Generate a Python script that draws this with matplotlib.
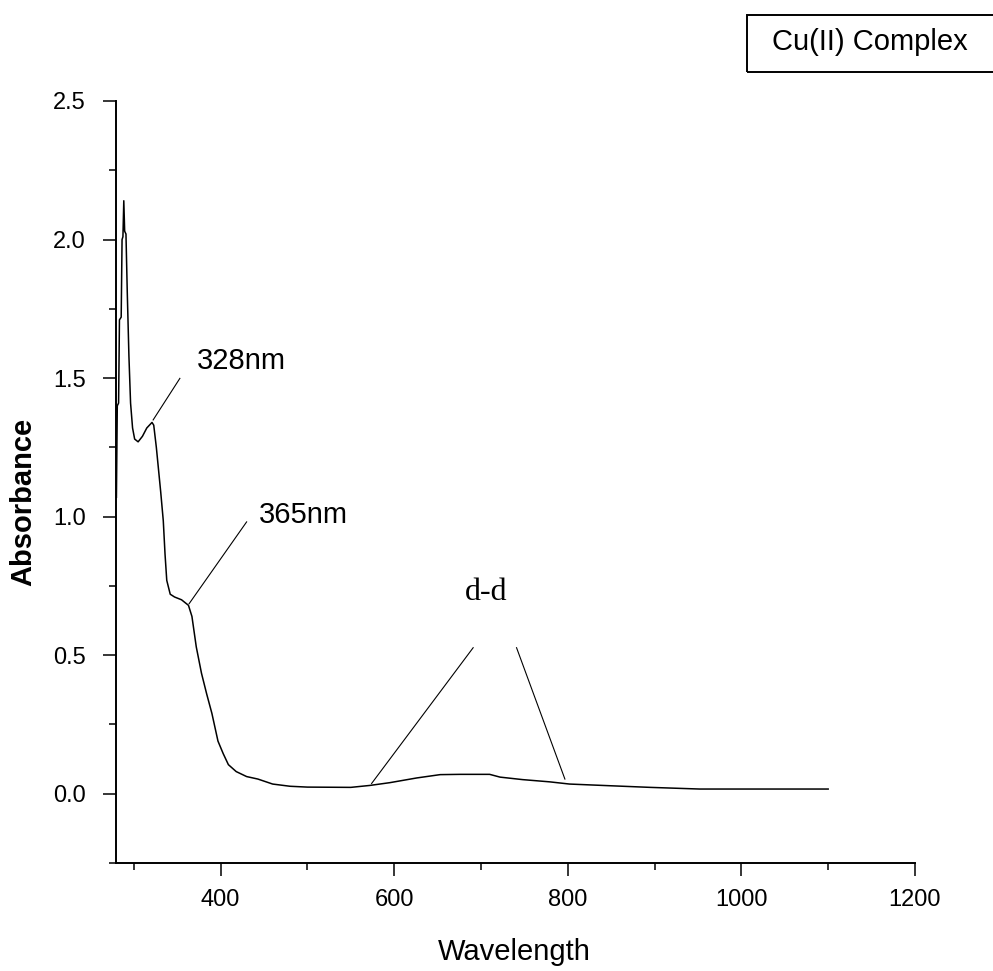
"""UV-Vis absorption spectrum of the Cu(II) complex, redrawn as a plain Origin-style plot."""
import matplotlib
matplotlib.use("Agg")
import matplotlib.pyplot as plt
from matplotlib.patches import Rectangle
from matplotlib.ticker import MultipleLocator

# spectrum (nm, absorbance)
wavelength = [280, 281, 282.5, 283.5, 285.5, 286.5, 287.5, 288.5, 289.5, 291,
              292.5, 294.4, 296.3, 298.6, 301, 305, 310, 315, 321, 323,
              326, 331, 334, 336, 338, 342, 347, 355, 363, 367,
              372, 378, 384, 390, 397, 403, 409, 418, 430, 443,
              460, 480, 500, 550, 572, 595, 626, 653, 676, 710,
              722, 748, 779, 802, 848, 895, 952, 1000, 1050, 1100]
absorbance = [1.07, 1.40, 1.41, 1.71, 1.72, 2.00, 2.01, 2.14, 2.03, 2.02,
              1.81, 1.58, 1.41, 1.32, 1.28, 1.27, 1.29, 1.32, 1.34, 1.33,
              1.25, 1.09, 0.985, 0.865, 0.77, 0.72, 0.71, 0.70, 0.68, 0.64,
              0.53, 0.435, 0.36, 0.29, 0.19, 0.145, 0.105, 0.08, 0.062, 0.053,
              0.035, 0.027, 0.024, 0.023, 0.030, 0.040, 0.057, 0.069, 0.070, 0.070,
              0.060, 0.051, 0.043, 0.035, 0.029, 0.023, 0.017, 0.017, 0.017, 0.017]

# annotation leader lines: (x0, y0, x1, y1) and their labels
peak_labels = ["328nm", "365nm"]
peak_lines = [(322.3, 1.349, 353.1, 1.499), (363.8, 0.686, 430.0, 0.981)]
peak_text_pos = [(372.4, 1.56), (444.5, 1.005)]
dd_label = "d-d"
dd_lines = [(574.0, 0.037, 691.0, 0.527), (741.0, 0.527, 796.7, 0.053)]
dd_text_pos = (706.0, 0.728)

SANS = "Liberation Sans"
SERIF = "Liberation Serif"


def main() -> None:
    fig = plt.figure(figsize=(9.93, 9.71), dpi=100)
    ax = fig.add_axes([0.1168, 0.1112, 0.8046, 0.7848])

    ax.plot(wavelength, absorbance, color="black", lw=1.1)

    for (x0, y0, x1, y1) in peak_lines + dd_lines:
        ax.plot([x0, x1], [y0, y1], color="black", lw=0.8)
    for lab, (tx, ty) in zip(peak_labels, peak_text_pos):
        ax.text(tx, ty, lab, family=SANS, fontsize=21, ha="left", va="center")
    ax.text(*dd_text_pos, dd_label, family=SERIF, fontsize=23, ha="center", va="center")

    ax.set_xlim(279.5, 1200)
    ax.set_ylim(-0.25, 2.5)
    ax.xaxis.set_major_locator(MultipleLocator(200))
    ax.xaxis.set_minor_locator(MultipleLocator(100))
    ax.yaxis.set_major_locator(MultipleLocator(0.5))
    ax.yaxis.set_minor_locator(MultipleLocator(0.25))
    ax.set_xticks([400, 600, 800, 1000, 1200])
    ax.set_yticks([0.0, 0.5, 1.0, 1.5, 2.0, 2.5])
    ax.set_yticklabels(["0.0", "0.5", "1.0", "1.5", "2.0", "2.5"])

    for side in ("top", "right"):
        ax.spines[side].set_visible(False)
    for side in ("left", "bottom"):
        ax.spines[side].set_linewidth(1.4)

    ax.tick_params(which="major", direction="out", length=9.5, width=1.1, labelsize=17)
    ax.tick_params(which="minor", direction="out", length=5, width=1.1)
    ax.tick_params(axis="x", which="major", pad=9)
    ax.tick_params(axis="y", which="major", pad=12)
    for lab in ax.get_xticklabels() + ax.get_yticklabels():
        lab.set_family(SANS)

    ax.set_xlabel("Wavelength", family=SANS, fontsize=21, va="center")
    ax.xaxis.set_label_coords(0.4985, -0.117)
    ax.set_ylabel("Absorbance", family=SANS, fontsize=21, fontweight="bold", va="center")
    ax.yaxis.set_label_coords(-0.116, 0.474)

    # Origin-style legend box, running off the right edge
    fig.patches.append(Rectangle((0.7523, 0.9258), 0.26, 0.0587, transform=fig.transFigure,
                                 fill=False, edgecolor="black", lw=1.4))
    fig.text(0.7774, 0.9567, "Cu(II) Complex", family=SANS, fontsize=21, ha="left", va="center")

    fig.savefig("out.png", dpi=100)
    plt.close(fig)


if __name__ == "__main__":
    main()
